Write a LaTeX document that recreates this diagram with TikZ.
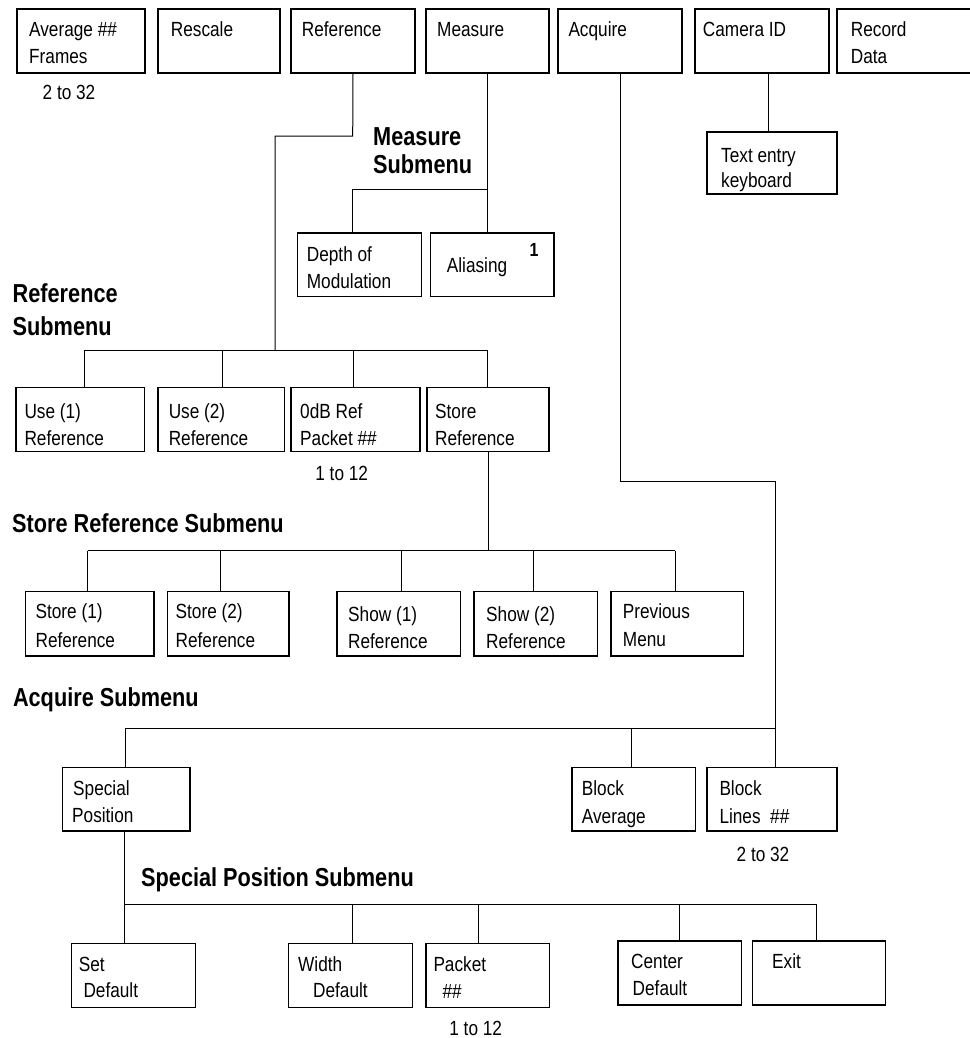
\documentclass[tikz,border=0pt]{standalone}
\usepackage{fontspec}
\setmainfont{Liberation Sans}[FakeStretch=0.84]
\newfontfamily\labfont{Liberation Sans}[FakeStretch=0.835]
\newcommand\mybox[5]{\node[box, minimum width={#4-#2}, minimum height={#5-#3}] (#1) at ({(#2+#4)/2},{(#3+#5)/2}) {};}
\tikzset{
  box/.style={draw, line width=1.2pt, rectangle, inner sep=0pt},
  txt/.style={anchor=base west, inner sep=0pt, font=\fontsize{20.5}{24}\selectfont},
  lab/.style={anchor=base west, inner sep=0pt, font=\labfont\bfseries\fontsize{26}{28}\selectfont},
  note/.style={anchor=base, inner sep=0pt, font=\fontsize{20.5}{24}\selectfont},
  conn/.style={line width=1pt},
}
\begin{document}
\begin{tikzpicture}[x=1pt,y=-1pt]
\useasboundingbox[fill=white] (0,0) rectangle (969,1038);
% ---------- top row
\mybox{avg}{17}{9}{145}{73}
\mybox{resc}{158}{9}{280}{73}
\mybox{ref}{291}{9}{415}{73}
\mybox{meas}{426}{9}{549}{73}
\mybox{acq}{558}{9}{682}{73}
\mybox{cam}{695}{9}{829}{73}
\mybox{rec}{837}{9}{975}{73}
\node[txt] (avgt1) at (29,37) {Average \#\#};
\node[txt] (avgt2) at (29,63.7) {Frames};
\node[txt] (resct) at (170.7,37) {Rescale};
\node[txt] (reft) at (301.7,37) {Reference};
\node[txt] (meast) at (437,37) {Measure};
\node[txt] (acqt) at (568.3,37) {Acquire};
\node[txt] (camt) at (702.7,37) {Camera ID};
\node[txt] (rect1) at (850.7,37) {Record};
\node[txt] (rect2) at (850.7,63.7) {Data};
\node[note] (avgn) at (69,100) {2 to 32};
% ---------- camera
\mybox{tek}{707}{132}{837}{194}
\node[txt] (tekt1) at (721,162) {Text entry};
\node[txt] (tekt2) at (721,187) {keyboard};
\coordinate (cx) at (768.7,100);
\draw[conn] (cam.south -| cx) -- (tek.north -| cx);
% ---------- measure submenu
\node[lab] (ml1) at (373,145.7) {Measure};
\node[lab] (ml2) at (373,173.5) {Submenu};
\mybox{depth}{297.7}{233}{421.3}{296.7}
\mybox{alias}{430.7}{233}{554}{296.7}
\node[txt] (deptht1) at (306.7,261) {Depth of};
\node[txt] (deptht2) at (306.7,288.7) {Modulation};
\node[txt] (aliast) at (446.7,272) {Aliasing};
\node[anchor=base, inner sep=0pt, font=\bfseries\fontsize{19}{22}\selectfont] (one) at (534,256.7) {1};
\coordinate (mb1) at (352.7,189);
\coordinate (mb2) at (487.5,189);
\draw[conn] (meas.south) -- (mb2) -- (mb1) -- (mb1 |- depth.north);
\draw[conn] (mb2) -- (mb2 |- alias.north);
% ---------- reference submenu
\node[lab] (rl1) at (12.5,302.5) {Reference};
\node[lab] (rl2) at (12.5,335.5) {Submenu};
\coordinate (rA) at (352.7,136);
\coordinate (rB) at (275,136);
\coordinate (rb1) at (84,350.7);
\coordinate (rb2) at (222.5,350.7);
\coordinate (rb3) at (353,350.7);
\coordinate (rb4) at (487.5,350.7);
\draw[conn] (ref.south) -- (rA) -- (rB) -- (rB |- rb1);
\draw[conn] (rb1) -- (rb4);
\mybox{u1}{16}{387.3}{144.6}{451.7}
\mybox{u2}{158}{387.3}{284.6}{451.7}
\mybox{odb}{291}{387.3}{420}{451.7}
\mybox{sref}{427}{387.3}{549}{451.7}
\draw[conn] (rb1) -- (rb1 |- u1.north);
\draw[conn] (rb2) -- (rb2 |- u2.north);
\draw[conn] (rb3) -- (rb3 |- odb.north);
\draw[conn] (rb4) -- (rb4 |- sref.north);
\node[txt] (u1t1) at (24.3,418.7) {Use (1)};
\node[txt] (u1t2) at (24.3,445.3) {Reference};
\node[txt] (u2t1) at (168.6,418.7) {Use (2)};
\node[txt] (u2t2) at (168.6,445.3) {Reference};
\node[txt] (odbt1) at (300,418.7) {0dB Ref};
\node[txt] (odbt2) at (300,445.3) {Packet \#\#};
\node[txt] (sreft1) at (435,418.7) {Store};
\node[txt] (sreft2) at (435,445.3) {Reference};
\node[note] (odbn) at (341.7,480.3) {1 to 12};
% ---------- store reference submenu
\node[lab] (sl) at (12,532.5) {Store Reference Submenu};
\coordinate (sb1) at (87.7,550.5);
\coordinate (sb2) at (220.5,550.5);
\coordinate (sb3) at (401,550.5);
\coordinate (sb4) at (533.7,550.5);
\coordinate (sb5) at (675,550.5);
\draw[conn] (sref.south) -- (sref.south |- sb1);
\draw[conn] (sb1) -- (sb5);
\mybox{s1}{25.7}{591.7}{154}{656}
\mybox{s2}{167.7}{591.7}{289}{656}
\mybox{sh1}{337}{591.7}{460.5}{656}
\mybox{sh2}{474}{591.7}{597.7}{656}
\mybox{prev}{611}{591.7}{743.7}{656}
\draw[conn] (sb1) -- (sb1 |- s1.north);
\draw[conn] (sb2) -- (sb2 |- s2.north);
\draw[conn] (sb3) -- (sb3 |- sh1.north);
\draw[conn] (sb4) -- (sb4 |- sh2.north);
\draw[conn] (sb5) -- (sb5 |- prev.north);
\node[txt] (s1t1) at (35.4,618.7) {Store (1)};
\node[txt] (s1t2) at (35.4,647) {Reference};
\node[txt] (s2t1) at (175.5,618.7) {Store (2)};
\node[txt] (s2t2) at (175.5,647) {Reference};
\node[txt] (sh1t1) at (348,621) {Show (1)};
\node[txt] (sh1t2) at (348,648.7) {Reference};
\node[txt] (sh2t1) at (486,621) {Show (2)};
\node[txt] (sh2t2) at (486,648.7) {Reference};
\node[txt] (prevt1) at (622.7,618.7) {Previous};
\node[txt] (prevt2) at (622.7,646.3) {Menu};
% ---------- acquire submenu
\node[lab] (al) at (12.8,706.2) {Acquire Submenu};
\coordinate (aA) at (620,481.7);
\coordinate (aB) at (775.7,481.7);
\coordinate (ab1) at (125,728.3);
\coordinate (ab2) at (631.6,728.3);
\coordinate (ab3) at (775.7,728.3);
\mybox{sp}{62.8}{767.3}{190}{831}
\mybox{ba}{572}{767.3}{695.3}{831}
\mybox{bl}{707}{767.3}{837}{831}
\draw[conn] (acq.south) -- (aA) -- (aB) -- (aB |- bl.north);
\draw[conn] (ab1) -- (ab3);
\draw[conn] (ab1) -- (ab1 |- sp.north);
\draw[conn] (ab2) -- (ab2 |- ba.north);
\node[txt] (spt1) at (73,795.3) {Special};
\node[txt] (spt2) at (72,822) {Position};
\node[txt] (bat1) at (581.7,795.3) {Block};
\node[txt] (bat2) at (581.7,823) {Average};
\node[txt] (blt1) at (719.3,795.3) {Block};
\node[txt] (blt2) at (719.3,823) {Lines\ \ \#\#};
\node[note] (bln) at (763,861) {2 to 32};
% ---------- special position submenu
\node[lab] (pl) at (141,886.2) {Special Position Submenu};
\coordinate (pb1) at (124.3,904);
\coordinate (pb2) at (352.7,904);
\coordinate (pb3) at (478.7,904);
\coordinate (pb4) at (679.7,904);
\coordinate (pb5) at (816.7,904);
\mybox{sd}{71.7}{943.3}{195.3}{1007.3}
\mybox{wd}{288.3}{943.3}{412.3}{1007.3}
\mybox{pk}{426}{943.3}{549.3}{1007.3}
\mybox{cd}{618}{941}{741.7}{1005}
\mybox{ex}{752.7}{941}{885.7}{1005}
\draw[conn] (sp.south -| pb1) -- (pb1 |- sd.north);
\draw[conn] (pb1) -- (pb5);
\draw[conn] (pb2) -- (pb2 |- wd.north);
\draw[conn] (pb3) -- (pb3 |- pk.north);
\draw[conn] (pb4) -- (pb4 |- cd.north);
\draw[conn] (pb5) -- (pb5 |- ex.north);
\node[txt] (sdt1) at (78.7,971) {Set};
\node[txt] (sdt2) at (83.3,997.7) {Default};
\node[txt] (wdt1) at (298,971) {Width};
\node[txt] (wdt2) at (313,997.7) {Default};
\node[txt] (pkt1) at (433.3,971) {Packet};
\node[txt] (pkt2) at (442.3,998.7) {\#\#};
\node[txt] (cdt1) at (631,968.7) {Center};
\node[txt] (cdt2) at (632.5,995.3) {Default};
\node[txt] (ext) at (772,968.7) {Exit};
\node[note] (pkn) at (475.7,1035) {1 to 12};
\end{tikzpicture}
\end{document}
